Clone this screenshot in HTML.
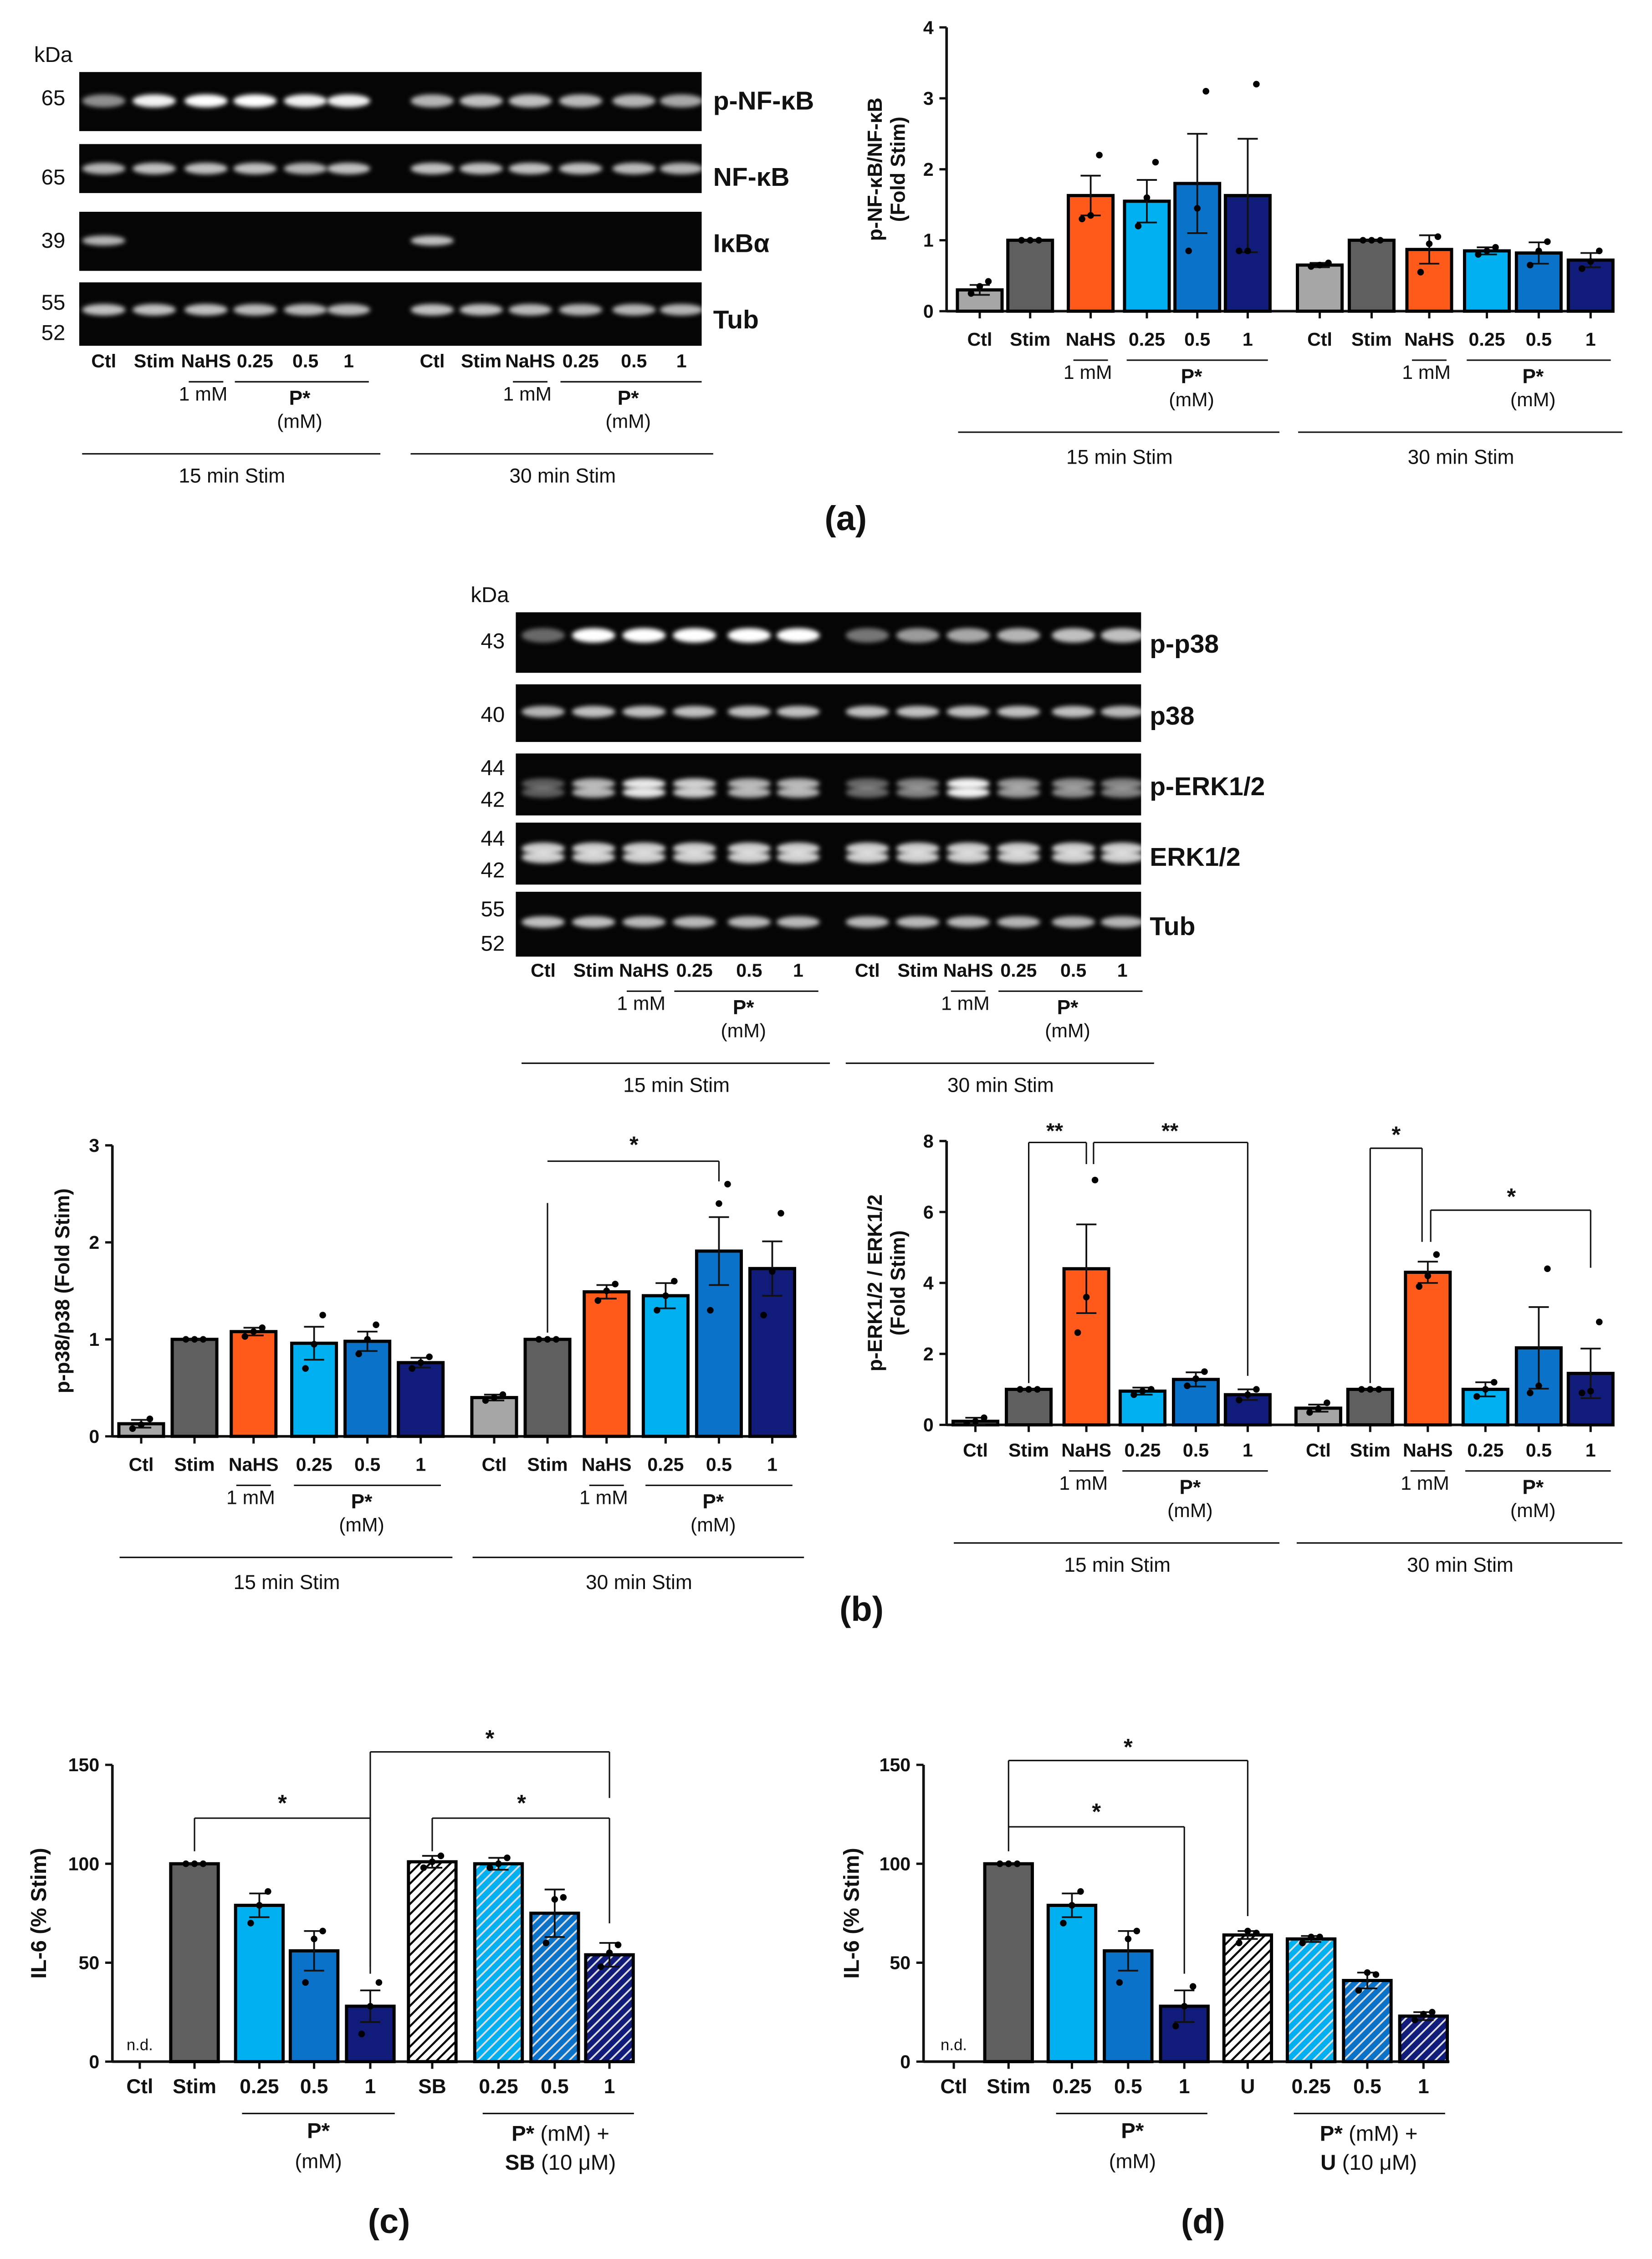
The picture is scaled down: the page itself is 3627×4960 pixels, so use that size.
<!DOCTYPE html>
<html><head><meta charset="utf-8"><style>
html,body{margin:0;padding:0;background:#fff}
svg{display:block}
text{font-family:"Liberation Sans",Arial,sans-serif;fill:#111}
</style></head><body>
<svg id="fig" xmlns="http://www.w3.org/2000/svg" width="3627" height="4960" viewBox="0 0 1146.6 1568">
<defs>
<filter id="blur" x="-50%" y="-100%" width="200%" height="300%"><feGaussianBlur stdDeviation="1.6"/></filter>
<pattern id="hw" patternUnits="userSpaceOnUse" width="5" height="5" patternTransform="rotate(45)"><rect width="5" height="5" fill="#fff"/><rect width="1.4" height="5" fill="#000"/></pattern>
<pattern id="hl" patternUnits="userSpaceOnUse" width="5" height="5" patternTransform="rotate(45)"><rect width="5" height="5" fill="#00b0f0"/><rect width="1.2" height="5" fill="#ddd"/></pattern>
<pattern id="hm" patternUnits="userSpaceOnUse" width="5" height="5" patternTransform="rotate(45)"><rect width="5" height="5" fill="#0a72c8"/><rect width="1.2" height="5" fill="#ddd"/></pattern>
<pattern id="hn" patternUnits="userSpaceOnUse" width="5" height="5" patternTransform="rotate(45)"><rect width="5" height="5" fill="#111c7a"/><rect width="1.2" height="5" fill="#ddd"/></pattern>
</defs>
<g id="root"></g>
</svg>
<script>
// ---------- chart data ----------
const catsA = ["Ctl","Stim","NaHS","0.25","0.5","1"];
const aVals15 = [0.30,1,1.63,1.55,1.80,1.63];
const aErr15  = [0.07,0,0.28,0.30,0.70,0.80];
const aPts15  = [[0.25,0.35,0.42],[1,1,1],[1.3,1.35,2.2],[1.2,1.6,2.1],[0.85,1.45,3.1],[0.85,0.85,3.2]];
const aVals30 = [0.65,1,0.87,0.85,0.82,0.72];
const aErr30  = [0.03,0,0.20,0.05,0.15,0.10];
const aPts30  = [[0.63,0.65,0.68],[1,1,1],[0.55,0.95,1.05],[0.8,0.85,0.9],[0.65,0.85,0.98],[0.6,0.7,0.85]];

const bVals15 = [0.13,1,1.08,0.96,0.98,0.76];
const bErr15  = [0.04,0,0.04,0.17,0.10,0.05];
const bPts15  = [[0.08,0.12,0.18],[1,1,1],[1.03,1.08,1.12],[0.7,0.95,1.25],[0.85,1.0,1.15],[0.7,0.76,0.82]];
const bVals30 = [0.40,1,1.49,1.45,1.91,1.73];
const bErr30  = [0.03,0,0.07,0.13,0.35,0.28];
const bPts30  = [[0.37,0.4,0.43],[1,1,1],[1.4,1.5,1.57],[1.3,1.45,1.6],[1.3,2.4,2.6],[1.25,1.7,2.3]];

const eVals15 = [0.10,1,4.40,0.95,1.28,0.85];
const eErr15  = [0.10,0,1.25,0.10,0.20,0.15];
const ePts15  = [[0.05,0.1,0.2],[1,1,1],[2.6,3.6,6.9],[0.85,0.95,1.0],[1.1,1.3,1.5],[0.7,0.85,1.0]];
const eVals30 = [0.47,1,4.30,1.00,2.17,1.45];
const eErr30  = [0.10,0,0.30,0.20,1.15,0.70];
const ePts30  = [[0.35,0.45,0.62],[1,1,1],[3.9,4.2,4.8],[0.8,1.0,1.2],[0.9,1.1,4.4],[0.9,0.95,2.9]];

const cCats = ["Ctl","Stim","0.25","0.5","1","SB","0.25","0.5","1"];
const cVals = [0,100,79,56,28,101,100,75,54];
const cErr  = [0,0,6,10,8,3,3,12,6];
const cPts  = [[],[100,100,100],[70,79,86],[40,62,66],[14,28,40],[98,101,104],[98,100,103],[60,82,83],[48,55,59]];
const dCats = ["Ctl","Stim","0.25","0.5","1","U","0.25","0.5","1"];
const dVals = [0,100,79,56,28,64,62,41,23];
const dErr  = [0,0,6,10,8,2,1.5,4,2];
const dPts  = [[],[100,100,100],[70,79,86],[40,62,66],[18,28,38],[60,66,65],[60,63,63],[36,45,44],[21,24,25]];

// ---------- helpers ----------
const NS="http://www.w3.org/2000/svg";
const root=document.getElementById('root');
function el(tag,attrs,parent,txt){const e=document.createElementNS(NS,tag);for(const k in attrs)e.setAttribute(k,attrs[k]);if(txt!==undefined)e.textContent=txt;(parent||root).appendChild(e);return e;}
function T(x,y,s,size,opts,parent){opts=opts||{};const t=el('text',{x:x,y:y,'font-size':size,'text-anchor':opts.anchor||'middle','font-weight':opts.bold?'bold':'normal'},parent,s);if(opts.rot)t.setAttribute('transform','rotate(-90 '+x+' '+y+')');return t;}
function L(x1,y1,x2,y2,w,parent){return el('line',{x1:x1,y1:y1,x2:x2,y2:y2,stroke:'#111','stroke-width':w||1},parent);}
const colors6=["#a6a6a6","#5f5f5f","#ff5a1a","#00b0f0","#0a72c8","#111c7a"];

function barChart(cfg){
  const g=el('g',{});
  
  
  const y=v=>cfg.y0-(v-0)/(cfg.ymax)*(cfg.y0-cfg.ytop);
  L(cfg.ax,cfg.ytop,cfg.ax,cfg.y0+0.8,1.8,g);
  L(cfg.ax,cfg.y0,cfg.axEnd,cfg.y0,1.8,g);
  cfg.ticks.forEach(tv=>{const yy=y(tv);L(cfg.ax-5,yy,cfg.ax,yy,1.6,g);const t=T(cfg.ax-9,yy+4.5,String(tv),13,{anchor:'end',bold:true},g);});
  const yt=T(cfg.ytx,(cfg.ytop+cfg.y0)/2,'',cfg.ytSize||14,{bold:true,rot:true},g);
  
  cfg.ytLines.forEach((s,i)=>{el('tspan',{x:cfg.ytx,dy:i?16:0},yt,s);});
  cfg.xs.forEach((cx,i)=>{
    const v=cfg.vals[i], w=cfg.bw;
    L(cx,cfg.y0,cx,cfg.y0+5,1.6,g);
    if(v>0){
      const r=el('rect',{x:cx-w/2,y:y(v),width:w,height:cfg.y0-y(v),fill:cfg.fills[i],stroke:'#000','stroke-width':2.2},g);
      
      const e=cfg.errs[i];
      if(e>0){L(cx,y(v+e),cx,y(Math.max(0,v-e)),1.2,g);L(cx-7,y(v+e),cx+7,y(v+e),1.2,g);L(cx-7,y(v-e),cx+7,y(v-e),1.2,g);}
      else{L(cx-8,y(v),cx+8,y(v),1.2,g);}
      const offs=[-6,0,6];
      (cfg.pts[i]||[]).forEach((p,j)=>{const c=el('circle',{cx:cx+offs[j],cy:y(p),r:2.3,fill:'#000'},g);});
    }
  });
  return {g:g,y:y};
}

function blot(x,y,w,h,lanes,ints,bandY,bandH,name,double){
  const g=el('g',{});
  
  
  el('rect',{x:x,y:y,width:w,height:h,fill:'#050505'},g);
  lanes.forEach((lx,i)=>{const it=ints[i];if(it<=0)return;
    const ys=double?[bandY-3,bandY+3]:[bandY];
    ys.forEach(by=>el('ellipse',{cx:lx,cy:by,rx:15,ry:bandH/(double?2.4:2),fill:'#fff','fill-opacity':it,filter:'url(#blur)'},g));
  });
  return g;
}
function laneLabels(lanes,yb,bold,sub){
  const g=el('g',{});
  
  
  [0,6].forEach(o=>{
    catsA.forEach((c,i)=>{T(lanes[o+i],yb,c,13,{bold:true},g);});
    L(lanes[o+2]-12,yb+10,lanes[o+2]+12,yb+10,1,g);
    T(lanes[o+2]-2,yb+23,'1 mM',13.5,{},g);
    L(lanes[o+3]-14,yb+10,lanes[o+5]+14,yb+10,1,g);
    T(lanes[o+4]-4,yb+26,'P*',14,{bold:true},g);
    T(lanes[o+4]-4,yb+42,'(mM)',13.5,{},g);
    L(lanes[o]-15,yb+60,lanes[o+5]+22,yb+60,1,g);
    T((lanes[o]+lanes[o+5])/2+4,yb+(sub||76),o?'30 min  Stim':'15 min Stim',14,{},g);
  });
}

// ---------- (a) blot ----------
const lanesA=[72,107,143,177,212,242,300,334,368,403,440,473];
T(37,43,'kDa',15);
[[65,73],[65,128],[39,172],[55,215],[52,236]].forEach(([k,yy])=>T(37,yy,String(k),15));
blot(55,50,432,41,lanesA,[0.55,0.95,1,1,0.95,0.95,0.7,0.75,0.75,0.72,0.7,0.65],70,9,'blot-p-nfkb');
blot(55,100,432,34,lanesA,[0.7,0.75,0.75,0.75,0.7,0.75,0.75,0.75,0.75,0.75,0.72,0.7],117,8,'blot-nfkb');
blot(55,147,432,41,lanesA,[0.7,0,0,0,0,0,0.75,0,0,0,0,0],167,7,'blot-ikba');
blot(55,196,432,44,lanesA,[0.75,0.75,0.75,0.72,0.72,0.72,0.75,0.75,0.72,0.7,0.7,0.7],215,8,'blot-tub');
[['p-NF-κB',76],['NF-κB',129],['IκBα',175],['Tub',228]].forEach(([s,yy])=>T(495,yy,s,18,{anchor:'start',bold:true}));
laneLabels(lanesA,255,true,80);

// ---------- (a) chart ----------
const xsA=[680,715,757,796,831,866,916,952,992,1032,1068,1104];
barChart({name:'chart-a',ax:657,axEnd:1120,y0:216,ytop:19,ymax:4,ticks:[0,1,2,3,4],ytx:612,ytLines:['p-NF-κB/NF-κB','(Fold Stim)'],
 xs:xsA,bw:31,vals:aVals15.concat(aVals30),errs:aErr15.concat(aErr30),pts:aPts15.concat(aPts30),fills:colors6.concat(colors6)});
laneLabels(xsA,240,true,82);
T(587,368,'(a)',24,{bold:true});

// ---------- (b) blot ----------
const lanesB=[377,412,447,482,520,554,602,637,672,707,745,779];
T(340,418,'kDa',15);
[[43,450],[40,501],[44,538],[42,560],[44,587],[42,609],[55,636],[52,660]].forEach(([k,yy])=>T(342,yy,String(k),15));
blot(358,425,434,42,lanesB,[0.4,1,1,1,1,1,0.45,0.6,0.65,0.7,0.75,0.75],441,10,'blot-p-p38');
blot(358,475,434,40,lanesB,[0.7,0.75,0.75,0.75,0.75,0.75,0.75,0.75,0.75,0.75,0.75,0.72],494,8,'blot-p38');
blot(358,523,434,43,lanesB,[0.35,0.7,0.9,0.8,0.7,0.7,0.4,0.5,0.95,0.6,0.55,0.5],547,9,'blot-p-erk',true);
blot(358,571,434,43,lanesB,[0.8,0.8,0.8,0.8,0.8,0.8,0.8,0.8,0.8,0.8,0.8,0.8],592,10,'blot-erk',true);
blot(358,619,434,45,lanesB,[0.75,0.75,0.72,0.72,0.72,0.72,0.72,0.72,0.72,0.7,0.7,0.7],640,8,'blot-tub-b');
[['p-p38',453],['p38',503],['p-ERK1/2',552],['ERK1/2',601],['Tub',649]].forEach(([s,yy])=>T(798,yy,s,18,{anchor:'start',bold:true}));
laneLabels(lanesB,678,true,80);

// ---------- (b) p38 chart ----------
const xsB=[98,135,176,218,255,292,343,380,421,462,499,536];
barChart({name:'chart-p38',ax:78,axEnd:553,y0:997,ytop:795,ymax:3,ticks:[0,1,2,3],ytx:48,ytLines:['p-p38/p38 (Fold Stim)'],
 xs:xsB,bw:31,vals:bVals15.concat(bVals30),errs:bErr15.concat(bErr30),pts:bPts15.concat(bPts30),fills:colors6.concat(colors6)});
laneLabels(xsB,1021,true,82);
L(380,835,380,925);L(380,806,499,806);L(499,806,499,820);T(440,800,'*',16,{bold:true});

// ---------- (b) ERK chart ----------
const xsE=[677,714,754,793,830,866,915,951,991,1031,1068,1104];
barChart({name:'chart-erk',ax:657,axEnd:1120,y0:989,ytop:792,ymax:8,ticks:[0,2,4,6,8],ytx:612,ytLines:['p-ERK1/2 / ERK1/2','(Fold Stim)'],
 xs:xsE,bw:31,vals:eVals15.concat(eVals30),errs:eErr15.concat(eErr30),pts:ePts15.concat(ePts30),fills:colors6.concat(colors6)});
laneLabels(xsE,1011,true,80);
L(714,960,714,793);L(714,793,754,793);L(754,793,754,808);T(732,790,'**',15,{bold:true});
L(759,808,759,793);L(759,793,866,793);L(866,793,866,955);T(812,790,'**',15,{bold:true});
L(951,960,951,797);L(951,797,987,797);L(987,797,987,862);T(969,793,'*',16,{bold:true});
L(993,862,993,840);L(993,840,1104,840);L(1104,840,1104,880);T(1049,836,'*',16,{bold:true});
T(598,1125,'(b)',24,{bold:true});

// ---------- (c) ----------
const xsC=[97,135,180,218,257,300,346,385,423];
const fillsCD=["#a6a6a6","#5f5f5f","#00b0f0","#0a72c8","#111c7a","url(#hw)","url(#hl)","url(#hm)","url(#hn)"];
barChart({name:'chart-c',ax:78,axEnd:440,y0:1431,ytop:1225,ymax:150,ticks:[0,50,100,150],ytx:32,ytSize:15,ytLines:['IL-6 (% Stim)'],
 xs:xsC,bw:33,vals:cVals,errs:cErr,pts:cPts,fills:fillsCD});
T(97,1423,'n.d.',11,{});
cCats.forEach((c,i)=>T(xsC[i],1453,c,14,{bold:true}));
L(168,1467,274,1467);T(221,1484,'P*',15,{bold:true});T(221,1505,'(mM)',14);
L(335,1467,440,1467);
(function(){const t=T(389,1486,'',15,{});el('tspan',{'font-weight':'bold'},t,'P*');el('tspan',{},t,' (mM) +');const t2=T(389,1506,'',15,{});el('tspan',{'font-weight':'bold'},t2,'SB');el('tspan',{},t2,' (10 μM)');})();
L(135,1285,135,1262);L(135,1262,257,1262);L(257,1262,257,1370);T(196,1257,'*',16,{bold:true});
L(257,1365,257,1216);L(257,1216,423,1216);L(423,1216,423,1248);T(340,1212,'*',16,{bold:true});
L(300,1285,300,1262);L(300,1262,423,1262);L(423,1262,423,1335);T(362,1257,'*',16,{bold:true});
T(270,1550,'(c)',24,{bold:true});

// ---------- (d) ----------
const xsD=[662,700,744,783,822,866,910,949,988];
barChart({name:'chart-d',ax:641,axEnd:1006,y0:1431,ytop:1225,ymax:150,ticks:[0,50,100,150],ytx:596,ytSize:15,ytLines:['IL-6 (% Stim)'],
 xs:xsD,bw:33,vals:dVals,errs:dErr,pts:dPts,fills:fillsCD});
T(662,1423,'n.d.',11,{});
dCats.forEach((c,i)=>T(xsD[i],1453,c,14,{bold:true}));
L(733,1467,838,1467);T(786,1484,'P*',15,{bold:true});T(786,1505,'(mM)',14);
L(898,1467,1003,1467);
(function(){const t=T(950,1486,'',15,{});el('tspan',{'font-weight':'bold'},t,'P*');el('tspan',{},t,' (mM) +');const t2=T(950,1506,'',15,{});el('tspan',{'font-weight':'bold'},t2,'U');el('tspan',{},t2,' (10 μM)');})();
L(700,1285,700,1268);L(700,1268,822,1268);L(822,1268,822,1370);T(761,1263,'*',16,{bold:true});
L(700,1268,700,1222);L(700,1222,866,1222);L(866,1222,866,1330);T(783,1218,'*',16,{bold:true});
T(835,1550,'(d)',24,{bold:true});
</script>
</body></html>
